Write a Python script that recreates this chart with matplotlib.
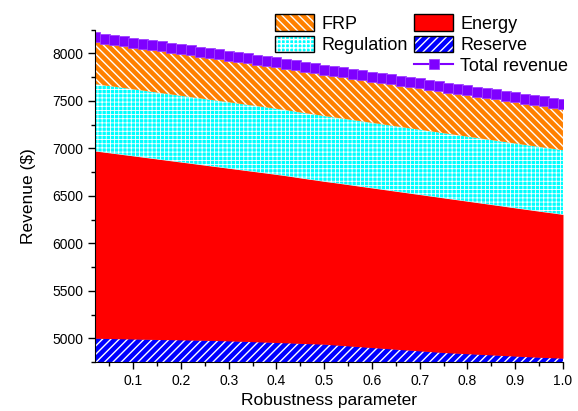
import numpy as np
import matplotlib
matplotlib.use('Agg')
import matplotlib.pyplot as plt
from matplotlib.patches import Patch
from matplotlib.lines import Line2D
from matplotlib.ticker import MultipleLocator

plt.rcParams['font.family'] = ['Liberation Sans', 'DejaVu Sans']
plt.rcParams['hatch.linewidth'] = 1.0

robustness = np.round(np.arange(1, 51) * 0.02, 2)

reserve = [5000, 4998, 4996, 4994, 4992, 4990, 4988, 4986, 4985, 4983,
           4981, 4979, 4977, 4975, 4972, 4969, 4966, 4962, 4959, 4955,
           4952, 4948, 4944, 4941, 4937, 4930, 4923, 4916, 4909, 4902,
           4895, 4888, 4881, 4874, 4867, 4860, 4853, 4847, 4842, 4837,
           4832, 4827, 4822, 4817, 4812, 4807, 4802, 4798, 4794, 4790]
energy = [1972, 1961, 1950, 1939, 1928, 1917, 1906, 1895, 1883, 1872,
          1861, 1850, 1839, 1828, 1818, 1808, 1798, 1789, 1779, 1770,
          1759, 1748, 1737, 1726, 1715, 1709, 1702, 1695, 1688, 1681,
          1674, 1667, 1660, 1653, 1646, 1639, 1632, 1624, 1615, 1606,
          1597, 1588, 1579, 1570, 1561, 1552, 1543, 1533, 1524, 1514]
regulation = [704, 703, 703, 702, 701, 701, 700, 699, 699, 698,
              697, 697, 696, 695, 695, 694, 693, 693, 692, 691,
              691, 690, 689, 689, 688, 687, 687, 686, 686, 685,
              685, 684, 684, 683, 683, 682, 682, 681, 681, 680,
              680, 679, 679, 678, 678, 677, 677, 677, 676, 676]
frp = [494, 494, 494, 493, 493, 493, 493, 492, 492, 492,
       492, 491, 491, 491, 491, 490, 490, 490, 490, 490,
       489, 489, 489, 489, 489, 489, 489, 488, 488, 488,
       488, 488, 488, 488, 488, 488, 488, 488, 488, 488,
       488, 488, 488, 488, 488, 488, 488, 488, 488, 488]

layer_names = ['Reserve', 'Energy', 'Regulation', 'FRP']
layer_colors = ['#0000ff', '#ff0000', '#00ffff', '#ff8000']
layer_hatches = ['////', None, '++++', '\\\\\\\\']
hatch_widths = [1.0, 1.0, 0.6, 1.0]

fig = plt.figure(figsize=(5.78, 4.11), dpi=100)
ax = fig.add_axes([0.1644, 0.1192, 0.8096, 0.8088])

layers = [np.array(reserve), np.array(energy), np.array(regulation), np.array(frp)]
bottom = np.zeros(len(robustness))
handles = {}
for vals, name, col, hatch, hw in zip(layers, layer_names, layer_colors,
                                      layer_hatches, hatch_widths):
    top = bottom + vals
    with plt.rc_context({'hatch.linewidth': hw}):
        ax.fill_between(robustness, bottom, top, facecolor=col, edgecolor='white',
                        hatch=hatch, linewidth=0)
        face = Patch(facecolor=col, edgecolor='white', hatch=hatch, linewidth=0)
    frame = Patch(facecolor='none', edgecolor='black', linewidth=1.0)
    handles[name] = (face, frame)
    bottom = top

total = bottom
ax.plot(robustness, total, color='#7f00ff', linewidth=1.5, marker='s',
        markersize=6.5, markeredgecolor='#a040ff', markeredgewidth=0.6)
line_handle = Line2D([], [], color='#7f00ff', linewidth=1.5, marker='s',
                     markersize=6.5, markeredgecolor='#a040ff', markeredgewidth=0.6)
blank = Patch(facecolor='none', edgecolor='none')

ax.set_xlim(0.02, 1.0)
ax.set_ylim(4750, 8250)
ax.xaxis.set_major_locator(MultipleLocator(0.1))
ax.xaxis.set_minor_locator(MultipleLocator(0.05))
ax.yaxis.set_major_locator(MultipleLocator(500))
ax.yaxis.set_minor_locator(MultipleLocator(250))
ax.set_xticks(np.round(np.arange(0.1, 1.01, 0.1), 1))
ax.set_xticklabels([f'{v:.1f}' for v in np.arange(0.1, 1.01, 0.1)])
ax.tick_params(which='major', direction='out', length=5, width=1, labelsize=10, pad=3.5)
ax.tick_params(which='minor', direction='out', length=3, width=1)
ax.spines['top'].set_visible(False)
ax.spines['right'].set_visible(False)
ax.set_xlabel('Robustness parameter', fontsize=12.5, labelpad=4)
ax.set_ylabel('Revenue ($)', fontsize=12.5, labelpad=12)

leg = fig.legend([handles['FRP'], handles['Regulation'], blank,
                  handles['Energy'], handles['Reserve'], line_handle],
                 ['FRP', 'Regulation', '', 'Energy', 'Reserve', 'Total revenue'],
                 ncol=2, loc='upper right', bbox_to_anchor=(0.983, 0.965),
                 frameon=False, fontsize=13, handlelength=2.15, handleheight=1.0,
                 handletextpad=0.4, columnspacing=0.35, labelspacing=0.17,
                 borderaxespad=0, borderpad=0)

fig.savefig('out.png', dpi=100)
